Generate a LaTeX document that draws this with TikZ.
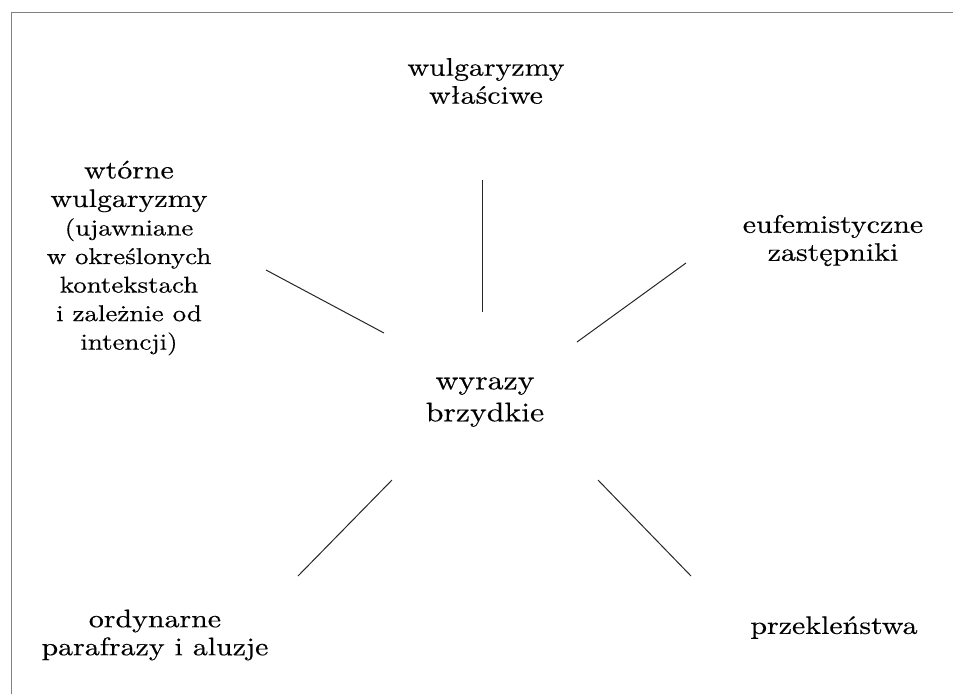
\documentclass[tikz,border=0pt]{standalone}
\usepackage{fontspec}
\setmainfont{lmroman10-regular.otf}[FakeStretch=1.18,FakeBold=0.4]
\definecolor{framegray}{RGB}{128,128,128}
\newcommand{\smallterm}{\fontsize{17.1}{21.4}\selectfont}

\begin{document}
\begin{tikzpicture}[x=0.75pt,y=-0.75pt,
    term/.style={align=center,inner sep=0pt,font=\fontsize{19}{21}\selectfont},
    spoke/.style={black!85,line width=0.75pt}]
    \useasboundingbox (0,0) rectangle (953,694);
    \draw[framegray,line width=0.75pt] (11,694) -- (11,12) -- (953,12);
    \node[term,font=\fontsize{20.2}{24}\selectfont] (wyrazy) at (485,402) {wyrazy\\brzydkie};
    \node[term] (wlasciwe) at (486,81) {wulgaryzmy\\właściwe};
    \node[term,font=\fontsize{19}{21.4}\selectfont] (wtorne) at (129,258) {wtórne\\wulgaryzmy\\\smallterm(ujawniane\\\smallterm w określonych\\\smallterm kontekstach\\\smallterm i zależnie od\\\smallterm intencji)};
    \node[term] (eufemizmy) at (833,240.5) {eufemistyczne\\zastępniki};
    \node[term] (ordynarne) at (155,635) {ordynarne\\parafrazy i aluzje};
    \node[term] (przeklenstwa) at (834,627.5) {przekleństwa};
    \coordinate (wlasciweA) at (482,312);
    \coordinate (wlasciweB) at (482,180);
    \coordinate (wtorneA) at (384,333);
    \coordinate (wtorneB) at (266,270);
    \coordinate (eufemizmyA) at (577,342);
    \coordinate (eufemizmyB) at (686,263);
    \coordinate (ordynarneA) at (392,480);
    \coordinate (ordynarneB) at (298,576);
    \coordinate (przeklenstwaA) at (598,480);
    \coordinate (przeklenstwaB) at (691,576);
    \draw[spoke] (wlasciweA) -- (wlasciweB);
    \draw[spoke] (wtorneA) -- (wtorneB);
    \draw[spoke] (eufemizmyA) -- (eufemizmyB);
    \draw[spoke] (ordynarneA) -- (ordynarneB);
    \draw[spoke] (przeklenstwaA) -- (przeklenstwaB);
\end{tikzpicture}
\end{document}
